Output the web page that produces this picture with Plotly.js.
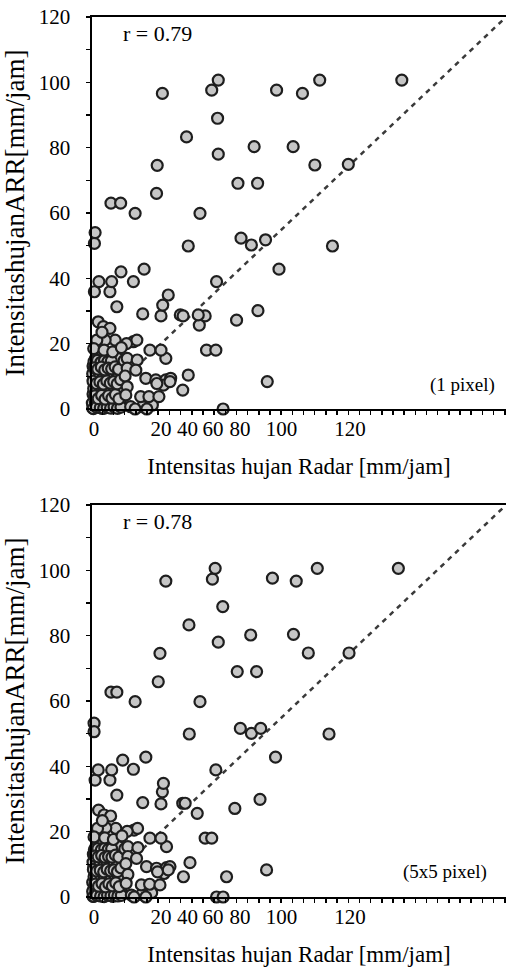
<!DOCTYPE html>
<html>
<head>
<meta charset="utf-8">
<script src="https://cdn.plot.ly/plotly-3.0.1.min.js"></script>
<style>html,body{margin:0;padding:0;background:#fff;}#chart{width:508px;height:967px;}</style>
</head>
<body>
<div id="chart"></div>
<script>
// ---- Panel 1 (1 pixel): radar intensity vs ARR intensity [mm/jam]
var radar1 = [
  0.2,1.4,2.9,4.3,5.8,7.1,0.6,2.1,3.6,5.1,6.6,8.2,0.3,1.7,3.2,4.6,6.0,7.6,1.0,2.5,4.0,5.5,7.0,0.4,1.9,3.5,5.0,6.4,8.0,1.2,2.7,4.3,5.8,7.3,0.3,1.9,3.4,4.9,6.5,8.1,1.0,2.6,4.2,5.7,7.4,
  0.9,2.3,3.8,5.2,6.8,1.3,2.9,4.4,6.1,7.7,0.7,2.4,3.9,5.4,6.9,1.5,3.0,4.6,6.2,7.9,0.8,2.2,3.7,5.3,6.8,
  0.1,1.0,2.0,3.0,4.0,5.0,6.0,7.0,0.5,1.5,2.5,3.5,4.5,5.5,6.5,7.5,0.2,1.2,2.2,3.2,4.2,5.2,6.2,7.2,0.6,1.6,2.6,3.6,4.6,5.6,
  0.4,1.3,2.4,3.4,4.4,5.4,6.4,7.4,8.4,0.8,1.8,2.8,3.8,4.8,5.8,6.8,7.8,0.3,1.3,2.3,3.3,4.3,5.3,6.3,7.3,8.3,0.7,1.7,2.7,3.7,4.7,5.7,6.7,7.7,
  9.3,10.2,13.1,10.2,12.7,9.6,10.2,9.8,11.2,14.6,17.5,12.5,15.9,14.1,16.5,19.4,15.6,18.5,21.4,22.8,20.7,18.8,21.4,16.8,20.0,12.0,13.0,10.0,6.7,3.8,1.4,1.8,3.3,5.2,2.9,0.5,3.5,6.0,8.5,
  22.6,26.3,27.9,38.0,33.2,35.9,31.1,32.8,30.8,25.6,26.4,20.0,14.7,20.5,22.1,7.2,0.7,5.2,2.0,5.7,12.0,8.4,15.1,36.1,41.9,48.1,50.8,54.2,27.9,43.2,46.2,50.3,69.7,0.7,0.9,
  5.5,8.3,12.5,31.3,18.7,18.9,20.4,27.4,34.7,36.6,36.4,36.6,42.3,47.0,48.0,53.5,61.0,66.0,89.8,58.3,64.6,74.3
];
var arr1 = [
  0.3,0.9,0.2,0.8,0.3,1.1,2.4,2.9,2.2,2.7,3.3,2.4,4.6,5.1,4.4,5.3,4.8,5.6,6.9,7.4,6.8,7.5,7.1,8.9,9.5,8.8,9.6,9.1,8.6,11.2,11.7,11.0,11.8,11.3,13.2,13.8,13.1,14.0,13.6,12.9,15.4,15.9,15.3,16.0,15.5,
  1.6,1.2,1.7,1.4,2.0,3.6,3.9,3.5,4.0,3.8,6.1,5.8,5.9,6.2,6.0,8.0,7.7,8.2,7.9,8.1,10.3,10.1,10.4,10.2,10.6,
  1.8,2.0,1.5,1.9,2.3,1.7,2.1,1.6,6.3,6.0,6.5,5.9,6.4,6.1,6.6,6.2,10.8,11.2,10.5,11.0,10.7,11.3,10.9,11.1,14.6,14.9,14.3,14.8,14.5,14.7,
  0.1,0.6,0.4,0.2,0.5,0.3,0.7,0.2,0.6,4.0,3.2,4.2,3.0,4.1,3.3,4.4,3.1,8.5,7.8,8.3,7.6,8.6,7.9,8.4,7.7,9.0,12.6,12.2,12.8,12.0,12.5,12.3,12.9,12.1,
  14.8,15.5,15.0,12.5,11.9,10.1,6.8,4.3,0.7,0.7,1.2,0.0,0.0,3.8,3.8,3.8,9.4,8.9,8.9,9.4,7.3,7.8,15.5,18.0,18.0,20.6,21.1,20.0,21.1,21.1,21.1,26.7,25.2,24.7,23.5,18.5,18.0,17.5,18.8,
  8.4,5.8,10.4,0.0,18.0,18.0,25.7,28.5,28.8,28.8,28.5,28.5,29.1,31.8,34.9,31.3,35.9,35.9,39.0,39.0,39.0,42.0,42.8,39.0,27.2,30.1,8.4,42.8,49.9,52.3,50.2,51.8,49.9,50.7,54.0,
  63.0,63.0,59.9,59.9,66.0,74.6,96.6,83.3,97.6,100.7,89.0,78.0,69.1,80.3,69.1,97.6,96.6,100.7,100.7,80.3,74.7,74.9
];

// ---- Panel 2 (5x5 pixel)
var radar2 = [
  0.3,1.6,3.0,4.5,6.0,7.3,0.5,2.2,3.8,5.3,6.8,8.4,0.2,1.8,3.3,4.8,6.2,7.8,1.1,2.6,4.1,5.6,7.2,0.5,2.0,3.6,5.1,6.6,8.2,1.3,2.8,4.4,6.0,7.5,0.4,2.0,3.5,5.0,6.7,8.3,1.1,2.7,4.3,5.9,7.6,
  1.0,2.4,3.9,5.4,7.0,1.4,3.1,4.6,6.3,7.8,0.8,2.5,4.0,5.5,7.1,1.6,3.2,4.7,6.4,8.0,0.9,2.3,3.9,5.4,7.0,
  0.2,1.1,2.1,3.1,4.1,5.1,6.1,7.1,0.6,1.6,2.6,3.6,4.6,5.6,6.6,7.6,0.3,1.3,2.3,3.3,4.3,5.3,6.3,7.3,0.7,1.7,2.7,3.7,4.7,5.7,
  0.5,1.4,2.5,3.5,4.5,5.5,6.5,7.5,8.5,0.9,1.9,2.9,3.9,4.9,5.9,6.9,7.9,0.4,1.4,2.4,3.4,4.4,5.4,6.4,7.4,8.4,0.8,1.8,2.8,3.8,4.8,5.8,6.8,7.8,
  9.5,10.4,13.3,10.4,12.9,9.8,10.4,9.9,11.4,14.4,17.3,12.2,15.6,14.3,16.7,19.7,15.8,18.7,21.6,22.6,20.9,19.0,21.6,16.8,20.0,12.2,13.2,10.2,6.9,4.0,1.6,1.9,3.5,5.4,3.0,0.6,3.7,6.2,8.7,
  22.1,26.5,28.4,36.1,38.0,39.0,32.8,34.7,30.5,26.3,27.0,20.0,14.7,20.4,20.7,7.2,0.9,5.2,1.8,5.7,12.0,8.9,15.6,35.9,41.4,48.7,50.6,53.2,28.2,0.6,0.6,43.0,46.2,48.9,68.7,
  5.5,7.2,12.5,31.3,19.2,19.7,21.4,28.1,34.9,35.7,37.9,36.6,42.1,46.0,47.7,52.3,59.2,65.3,88.8,58.4,62.7,74.5
];
var arr2 = [
  0.2,0.8,0.3,0.9,0.2,1.0,2.3,2.8,2.1,2.6,3.2,2.5,4.5,5.0,4.3,5.2,4.7,5.5,6.8,7.3,6.7,7.4,7.0,8.8,9.4,8.7,9.5,9.0,8.5,11.1,11.6,10.9,11.7,11.2,13.1,13.7,13.0,13.9,13.5,12.8,15.3,15.8,15.2,15.9,15.4,
  1.5,1.1,1.8,1.3,2.1,3.5,4.0,3.4,4.1,3.7,6.0,5.9,5.8,6.3,6.1,7.9,7.8,8.1,8.0,8.2,10.2,10.0,10.5,10.3,10.7,
  1.7,2.1,1.4,2.0,2.2,1.8,2.0,1.5,6.2,6.1,6.4,5.8,6.5,6.0,6.7,6.3,10.7,11.1,10.6,11.1,10.8,11.2,10.8,11.0,14.5,14.8,14.4,14.9,14.6,14.8,
  0.2,0.5,0.3,0.1,0.6,0.4,0.6,0.3,0.5,3.9,3.3,4.1,3.1,4.0,3.4,4.3,3.2,8.4,7.9,8.2,7.7,8.5,8.0,8.3,7.8,8.9,12.5,12.3,12.7,12.1,12.4,12.2,12.8,12.2,
  14.7,15.4,15.1,12.4,11.8,10.2,6.9,4.2,0.6,0.8,1.3,0.0,0.0,3.7,3.9,3.7,9.3,8.8,9.0,9.3,7.2,7.7,15.4,18.0,18.0,20.5,21.0,20.1,21.0,21.2,21.0,26.6,25.1,24.8,23.4,18.4,18.1,17.6,18.7,
  8.3,6.2,10.5,0.0,0.0,6.2,18.0,18.0,25.6,28.7,28.7,28.5,28.9,32.2,34.8,31.2,35.8,35.8,38.9,38.9,39.1,41.9,42.8,38.9,27.1,29.9,8.3,42.8,49.9,53.2,50.6,51.6,50.1,51.6,49.9,
  62.7,62.7,59.8,59.8,65.9,74.6,96.7,83.3,97.3,100.6,88.9,78.0,69.0,80.2,69.0,97.6,96.7,100.6,100.6,80.4,74.7,74.7
];

// 1:1 reference line
var lineX = [0, 120];
var lineY = [0, 120];

// axis ticks / labels (the x labels sit where the original figure drew them)
var xTickPos  = [0.6, 20.0, 27.7, 35.1, 42.9, 54.9, 74.8];
var xTickText = ['0', '20', '40', '60', '80', '100', '120'];
var yTickVals = [0, 20, 40, 60, 80, 100, 120];
var rLabels   = ['r = 0.79', 'r = 0.78'];
var resLabels = ['(1 pixel)', '(5x5 pixel)'];
var xTitle = 'Intensitas hujan Radar [mm/jam]';
var yTitle = 'IntensitashujanARR[mm/jam]';

var FONT = '"Liberation Serif", "Times New Roman", serif';
var W = 508, H = 967;
var xDom = [92 / W, 506 / W];
var yDom1 = [1 - 409 / H, 1 - 17 / H];
var yDom2 = [1 - 897 / H, 1 - 505 / H];

function scatter(x, y, xa, ya) {
  return {
    x: x, y: y, xaxis: xa, yaxis: ya, type: 'scatter', mode: 'markers',
    cliponaxis: false, showlegend: false, hoverinfo: 'skip',
    marker: {symbol: 'circle', size: 11, color: '#c6c6c6', line: {color: '#1e1e1e', width: 2.2}}
  };
}
function diag(xa, ya) {
  return {
    x: lineX, y: lineY, xaxis: xa, yaxis: ya, type: 'scatter', mode: 'lines',
    showlegend: false, hoverinfo: 'skip',
    line: {color: '#3a3a3a', width: 2.5, dash: '5px,5px'}
  };
}

function xAxis(anchor) {
  return {
    domain: xDom, range: [0, 120], anchor: anchor, fixedrange: true,
    showline: true, linecolor: '#000', linewidth: 1.6, mirror: true,
    showgrid: false, zeroline: false,
    tickmode: 'array', tickvals: xTickPos, ticktext: xTickText,
    ticks: '',
    tickfont: {family: FONT, size: 21, color: '#000'},
    minor: {tickmode: 'linear', tick0: 3.0, dtick: 3.24, ticks: 'outside', ticklen: 4, tickwidth: 1.5, tickcolor: '#000', showgrid: false},
    title: {text: xTitle, font: {family: FONT, size: 23, color: '#000'}, standoff: 18}
  };
}
function yAxis(anchor, dom) {
  return {
    domain: dom, range: [0, 120], anchor: anchor, fixedrange: true,
    showline: true, linecolor: '#000', linewidth: 1.6, mirror: false,
    showgrid: false, zeroline: false,
    tickmode: 'array', tickvals: yTickVals,
    ticks: 'outside', ticklen: 4, tickwidth: 1.5, tickcolor: '#000', ticklabelstandoff: 12,
    tickfont: {family: FONT, size: 21, color: '#000'},
    minor: {dtick: 10, ticks: 'outside', ticklen: 4, tickwidth: 1.5, tickcolor: '#000', showgrid: false},
    title: {text: yTitle, font: {family: FONT, size: 27, color: '#000'}, standoff: 6}
  };
}

var data = [
  diag('x', 'y'), scatter(radar1, arr1, 'x', 'y'),
  diag('x2', 'y2'), scatter(radar2, arr2, 'x2', 'y2')
];

var layout = {
  width: W, height: H,
  margin: {l: 0, r: 0, t: 0, b: 0},
  paper_bgcolor: '#fff', plot_bgcolor: '#fff',
  font: {family: FONT, color: '#000'},
  xaxis: xAxis('y'), yaxis: yAxis('x', yDom1),
  xaxis2: xAxis('y2'), yaxis2: yAxis('x2', yDom2),
  annotations: [
    {xref: 'x', yref: 'y', x: 19, y: 114.8, text: rLabels[0], showarrow: false, xanchor: 'center', yanchor: 'middle', font: {family: FONT, size: 22, color: '#000'}},
    {xref: 'x2', yref: 'y2', x: 19, y: 114.8, text: rLabels[1], showarrow: false, xanchor: 'center', yanchor: 'middle', font: {family: FONT, size: 22, color: '#000'}},
    {xref: 'x', yref: 'y', x: 117.5, y: 7.4, text: resLabels[0], showarrow: false, xanchor: 'right', yanchor: 'middle', font: {family: FONT, size: 19, color: '#000'}},
    {xref: 'x2', yref: 'y2', x: 115, y: 7.6, text: resLabels[1], showarrow: false, xanchor: 'right', yanchor: 'middle', font: {family: FONT, size: 19, color: '#000'}}
  ]
};

Plotly.newPlot('chart', data, layout, {staticPlot: true, displayModeBar: false});
</script>
</body>
</html>
